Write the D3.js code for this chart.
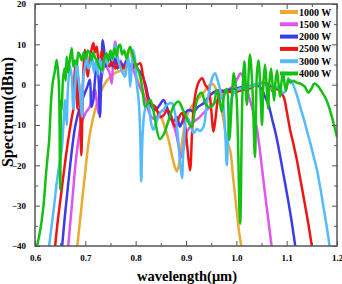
<!DOCTYPE html>
<html>
<head>
<meta charset="utf-8">
<script src="https://cdn.jsdelivr.net/npm/d3@7"></script>
<style>
body { margin: 0; background: #fff; }
svg text { font-family: "Liberation Serif", "Times New Roman", serif; font-weight: bold; }
</style>
</head>
<body>
<div id="chart"></div>
<script>
var width = 342,
    height = 284;

// legend labels
const seriesNames = ["1000 W", "1500 W", "2000 W", "2500 W", "3000 W", "4000 W"];

// [wavelength (um), spectrum (dBm)]
const s1000 = [[0.684,-40],[0.690,-33],[0.696,-26],[0.702,-19],[0.708,-13],[0.715,-8.5],[0.722,-5],[0.730,-2],[0.740,0.5],[0.750,2],[0.760,3],[0.770,3.4],[0.776,3.2],[0.781,5.8],[0.786,8.6],[0.791,7.5],[0.797,4],[0.803,1.5],[0.810,-1],[0.818,-3.5],[0.826,-5],[0.834,-5.8],[0.842,-6.5],[0.850,-8],[0.858,-10.5],[0.865,-13.5],[0.872,-17.5],[0.878,-20.5],[0.882,-21.5],[0.887,-19],[0.893,-13.5],[0.901,-8],[0.911,-5.5],[0.920,-4],[0.928,-3],[0.936,-1.8],[0.944,-0.5],[0.950,0.3],[0.956,-0.2],[0.962,-1.8],[0.968,-4.5],[0.974,-8.5],[0.981,-13.7],[0.988,-16.5],[0.994,-23.5],[1.001,-31.5],[1.006,-37],[1.010,-40]];

const s1500 = [[0.666,-40],[0.671,-33],[0.676,-26],[0.681,-19],[0.686,-14],[0.691,-10],[0.697,-8],[0.703,-6.5],[0.709,-5.5],[0.714,-2],[0.719,-1.3],[0.722,-3.5],[0.726,-7.1],[0.729,-1],[0.7325,2],[0.736,4],[0.739,5.3],[0.744,4],[0.748,3],[0.7525,0.3],[0.755,6],[0.759,10.7],[0.762,9],[0.7656,4.5],[0.770,6],[0.775,4],[0.780,5.5],[0.785,4.5],[0.790,5],[0.796,3.5],[0.802,1.2],[0.808,-0.5],[0.815,-2.1],[0.822,-5],[0.829,-7.5],[0.836,-8.5],[0.842,-8],[0.849,-6.8],[0.856,-6.3],[0.862,-6.5],[0.870,-8.5],[0.878,-11],[0.885,-15],[0.890,-18],[0.895,-16],[0.901,-12],[0.908,-10.4],[0.915,-9.2],[0.925,-8.3],[0.935,-7],[0.948,-5.5],[0.961,-4],[0.974,-2.6],[0.985,-1.2],[0.994,-0.3],[1.002,1.5],[1.009,2.8],[1.015,1.2],[1.021,-1.2],[1.027,-3.8],[1.034,-7],[1.041,-11],[1.048,-17.5],[1.055,-25],[1.062,-32],[1.070,-40]];

const s2000 = [[0.654,-40],[0.659,-33],[0.664,-27],[0.669,-21],[0.674,-15.5],[0.679,-11],[0.685,-7.5],[0.692,-4.5],[0.699,-2.1],[0.704,-0.5],[0.709,1.2],[0.712,-5.5],[0.716,-3.8],[0.719,1],[0.7226,4.5],[0.726,2],[0.729,-8],[0.732,3],[0.7345,11],[0.737,9],[0.740,4.5],[0.745,6],[0.749,7],[0.754,4.5],[0.759,6.5],[0.764,4],[0.770,5.5],[0.776,4.5],[0.782,6],[0.789,4.5],[0.796,5],[0.803,4],[0.810,3],[0.819,0.3],[0.825,-3],[0.832,-5.5],[0.839,-6.3],[0.848,-5],[0.855,-3.8],[0.862,-5.5],[0.868,-8],[0.876,-9],[0.882,-8],[0.888,-10.4],[0.895,-8.3],[0.902,-6.5],[0.908,-6.3],[0.915,-6.7],[0.924,-5.5],[0.935,-4.6],[0.948,-2.6],[0.961,-1.5],[0.974,-1.5],[0.988,-1.2],[1.001,-0.9],[1.015,-0.5],[1.028,-0.3],[1.040,0],[1.050,-1],[1.057,-3],[1.064,-5],[1.071,-8.5],[1.078,-12],[1.086,-17],[1.094,-22.5],[1.102,-28],[1.110,-34],[1.117,-40]];

const s2500 = [[0.640,-40],[0.645,-34],[0.650,-29],[0.655,-24],[0.660,-19],[0.665,-14.5],[0.670,-10.5],[0.674,-7.5],[0.676,-6.3],[0.678,0],[0.6795,4.5],[0.682,1],[0.684,-6],[0.686,2],[0.689,-3],[0.692,-17.5],[0.694,-8],[0.696,3],[0.699,8.6],[0.702,4],[0.705,2],[0.708,6],[0.712,8.5],[0.716,10.3],[0.719,8],[0.7226,9.4],[0.726,6.5],[0.729,6.1],[0.733,8.5],[0.737,5],[0.742,7],[0.748,4.5],[0.754,6],[0.760,4],[0.767,5.5],[0.774,4],[0.781,5],[0.789,4],[0.799,4.5],[0.809,5.3],[0.814,2.5],[0.819,-0.5],[0.825,-3.8],[0.829,-4.6],[0.839,-5.5],[0.849,-8],[0.856,-7.5],[0.862,-6.3],[0.868,-7],[0.875,-9.6],[0.879,-10.4],[0.885,-8.5],[0.892,-7],[0.898,-10],[0.903,-16],[0.908,-21.2],[0.912,-12],[0.915,-6],[0.920,-1.5],[0.926,0.8],[0.932,1.6],[0.938,0],[0.945,-1.3],[0.950,-6],[0.9545,-11.7],[0.959,-8],[0.963,-4],[0.968,-2],[0.976,-1.8],[0.984,-1.7],[0.994,-2],[1.005,-1.6],[1.016,-1.2],[1.027,-0.9],[1.040,0],[1.052,0.5],[1.060,0.3],[1.067,-0.2],[1.073,-1.8],[1.079,-1],[1.086,-1.5],[1.094,-3],[1.100,-6.5],[1.107,-11.3],[1.114,-15],[1.120,-18.5],[1.128,-24],[1.136,-29.5],[1.143,-34.5],[1.150,-40]];

const s3000 = [[0.628,-40],[0.633,-35],[0.638,-30],[0.643,-24.5],[0.648,-20],[0.653,-16.2],[0.656,-11],[0.660,-3.8],[0.663,-10],[0.665,-2],[0.6696,4.5],[0.673,2],[0.676,-6],[0.680,0.3],[0.683,6.1],[0.686,2],[0.6895,-2.1],[0.693,-8],[0.696,2],[0.700,5],[0.703,7.8],[0.706,4],[0.709,4.5],[0.713,7.5],[0.717,3],[0.721,6],[0.725,2.5],[0.729,6.5],[0.734,3],[0.739,7],[0.744,5],[0.749,8],[0.754,6],[0.759,9.9],[0.764,7],[0.769,4.5],[0.774,3],[0.779,2],[0.7825,5],[0.7855,7],[0.789,-0.5],[0.792,4],[0.795,8.6],[0.799,6.1],[0.802,0.3],[0.806,-4],[0.809,-12],[0.811,-24],[0.814,-12],[0.819,-6],[0.825,-5],[0.830,-9],[0.835,-11.2],[0.842,-9],[0.849,-7],[0.855,-6.3],[0.862,-5],[0.872,-4.6],[0.878,-7],[0.884,-13],[0.888,-19],[0.892,-23.2],[0.895,-16],[0.902,-8],[0.908,-9.5],[0.915,-12],[0.922,-11],[0.928,-11.5],[0.935,-10.4],[0.941,-5],[0.948,-0.5],[0.953,2],[0.958,2.8],[0.963,1],[0.969,-2],[0.974,-4.6],[0.978,-12],[0.981,-20],[0.984,-12],[0.990,-3.5],[0.996,-1.8],[1.001,-1.3],[1.014,-0.8],[1.027,-0.5],[1.040,0],[1.050,0.3],[1.060,-0.3],[1.070,-1],[1.078,-0.5],[1.086,-1],[1.094,-2.1],[1.100,-0.5],[1.107,1.2],[1.113,0],[1.120,-2.5],[1.127,-5.5],[1.134,-8.5],[1.140,-11.3],[1.147,-14.5],[1.153,-17.5],[1.160,-21],[1.166,-25],[1.172,-29.5],[1.178,-34],[1.183,-38],[1.185,-40]];

const s4000 = [[0.604,-40],[0.609,-37],[0.613,-34],[0.616,-31],[0.619,-27],[0.622,-22],[0.625,-18],[0.628,-14],[0.630,-9],[0.632,-4],[0.634,-1],[0.636,1.2],[0.639,3],[0.643,6.1],[0.646,3],[0.648,-2],[0.650,-26],[0.652,-4],[0.653,-6.3],[0.656,2],[0.659,4],[0.661,1],[0.663,7],[0.666,3],[0.669,6],[0.673,9],[0.676,4.5],[0.679,6],[0.683,5],[0.686,8],[0.689,7.4],[0.693,6],[0.697,8],[0.701,6.5],[0.705,8.5],[0.709,7.8],[0.712,6],[0.716,8],[0.720,6.5],[0.723,6.1],[0.727,4.5],[0.733,3.6],[0.737,6],[0.742,7.8],[0.746,6],[0.750,8.5],[0.754,6.5],[0.758,9],[0.762,7],[0.766,9.5],[0.769,9.9],[0.773,7.5],[0.777,8.5],[0.782,6.5],[0.786,8.5],[0.789,9.4],[0.794,7.5],[0.799,5.3],[0.804,4],[0.809,2],[0.814,-1.5],[0.819,-5.5],[0.829,-3.8],[0.835,-6.3],[0.848,-13.5],[0.855,-12.5],[0.865,-9],[0.875,-5.5],[0.885,-4.2],[0.893,-6],[0.902,-8.5],[0.911,-10.5],[0.918,-6],[0.925,-2.6],[0.931,-2],[0.938,-4.5],[0.944,-5.5],[0.9545,-5],[0.961,-1.3],[0.966,-3.5],[0.971,-6.7],[0.976,-2.5],[0.981,-1],[0.986,-13.7],[0.991,-4],[0.995,2.8],[1.000,-2],[1.0075,-34.5],[1.012,-3],[1.016,5.8],[1.021,-5],[1.027,7.5],[1.032,-1],[1.037,-18],[1.041,3],[1.044,6],[1.048,-2],[1.051,-10],[1.054,1],[1.057,5],[1.060,0],[1.063,-6],[1.066,1],[1.069,4],[1.072,0],[1.075,-4],[1.078,1],[1.081,3.5],[1.084,0],[1.087,-3],[1.090,1],[1.093,3],[1.096,0],[1.099,-1.5],[1.103,1.5],[1.107,0.5],[1.113,1],[1.120,0.5],[1.128,0.2],[1.136,-0.5],[1.143,-2],[1.149,-1],[1.155,0.3],[1.162,-0.3],[1.170,-1.8],[1.178,-3.5],[1.186,-6.3],[1.193,-9.5],[1.200,-13]];

const seriesData = [s1000, s1500, s2000, s2500, s3000, s4000];

// axis ticks
const xTicks = [0.6, 0.7, 0.8, 0.9, 1.0, 1.1, 1.2];
const xMinorTicks = [0.65, 0.75, 0.85, 0.95, 1.05, 1.15];
const yTicks = [-40, -30, -20, -10, 0, 10, 20];
const yMinorTicks = [-35, -25, -15, -5, 5, 15];

var margin = {top: 4, right: 5, bottom: 38, left: 35};
var plotW = width - margin.left - margin.right,
    plotH = height - margin.top - margin.bottom;

var xScale = d3.scaleLinear().domain([0.6, 1.2]).range([0, plotW]),
    yScale = d3.scaleLinear().domain([-40, 20]).range([plotH, 0]);

var colorScale = d3.scaleOrdinal()
    .domain(seriesNames)
    .range(["#EBA832", "#DD55EE", "#3C3CE6", "#F01414", "#55BBFF", "#14C014"]);

var svg = d3.select("#chart")
    .append("svg")
    .attr("width", width)
    .attr("height", height);

svg.append("defs").append("clipPath")
    .attr("id", "plotclip")
    .append("rect")
    .attr("width", plotW)
    .attr("height", plotH);

var g = svg.append("g")
    .attr("transform", "translate(" + margin.left + "," + margin.top + ")");

// lines
var line = d3.line()
    .x(function(d) { return xScale(d[0]); })
    .y(function(d) { return yScale(d[1]); })
    .curve(d3.curveCatmullRom.alpha(0.5));

g.append("g")
    .attr("clip-path", "url(#plotclip)")
    .selectAll(".line")
    .data(seriesData)
    .enter().append("path")
    .attr("class", "line")
    .attr("d", line)
    .attr("fill", "none")
    .attr("stroke-width", 2.5)
    .attr("stroke-linejoin", "round")
    .style("stroke", function(d, i) { return colorScale(seriesNames[i]); });

// axes, ticks inward on all four sides
function styleAxis(sel) {
    sel.selectAll(".domain").remove();
    sel.selectAll("line").attr("stroke", "#555").attr("stroke-width", 1);
    sel.selectAll("text").attr("fill", "#000").style("font-size", "9px");
}

g.append("g")
    .attr("transform", "translate(0," + plotH + ")")
    .call(d3.axisBottom(xScale).tickValues(xTicks).tickSize(-5).tickPadding(9).tickFormat(d3.format(".1f")))
    .call(styleAxis);
g.append("g")
    .attr("transform", "translate(0," + plotH + ")")
    .call(d3.axisBottom(xScale).tickValues(xMinorTicks).tickSize(-3).tickFormat(""))
    .call(styleAxis);
g.append("g")
    .call(d3.axisTop(xScale).tickValues(xTicks).tickSize(-5).tickFormat(""))
    .call(styleAxis);
g.append("g")
    .call(d3.axisTop(xScale).tickValues(xMinorTicks).tickSize(-3).tickFormat(""))
    .call(styleAxis);

g.append("g")
    .call(d3.axisLeft(yScale).tickValues(yTicks).tickSize(-5).tickPadding(9))
    .call(styleAxis);
g.append("g")
    .call(d3.axisLeft(yScale).tickValues(yMinorTicks).tickSize(-3).tickFormat(""))
    .call(styleAxis);
g.append("g")
    .attr("transform", "translate(" + plotW + ",0)")
    .call(d3.axisRight(yScale).tickValues(yTicks).tickSize(-5).tickFormat(""))
    .call(styleAxis);
g.append("g")
    .attr("transform", "translate(" + plotW + ",0)")
    .call(d3.axisRight(yScale).tickValues(yMinorTicks).tickSize(-3).tickFormat(""))
    .call(styleAxis);

// frame
g.append("rect")
    .attr("width", plotW)
    .attr("height", plotH)
    .attr("fill", "none")
    .attr("stroke", "#555")
    .attr("stroke-width", 1.5);

// axis titles
svg.append("text")
    .attr("x", margin.left + plotW / 2 + 1)
    .attr("y", 281)
    .attr("text-anchor", "middle")
    .style("font-size", "14.5px")
    .text("wavelength(\u03bcm)");

svg.append("text")
    .attr("transform", "translate(13,112) rotate(-90)")
    .attr("text-anchor", "middle")
    .style("font-size", "16px")
    .text("Spectrum(dBm)");

// legend
var legend = g.selectAll(".legend")
    .data(seriesNames)
    .enter().append("g")
    .attr("class", "legend")
    .attr("transform", function(d, i) { return "translate(" + (plotW - 57) + "," + (8 + i * 12.3) + ")"; });

legend.append("line")
    .attr("x1", 0).attr("x2", 18)
    .attr("stroke-width", 4)
    .style("stroke", function(d) { return colorScale(d); });

legend.append("text")
    .attr("x", 19)
    .attr("y", 3.5)
    .style("font-size", "10px")
    .text(function(d) { return d; });
</script>
</body>
</html>
